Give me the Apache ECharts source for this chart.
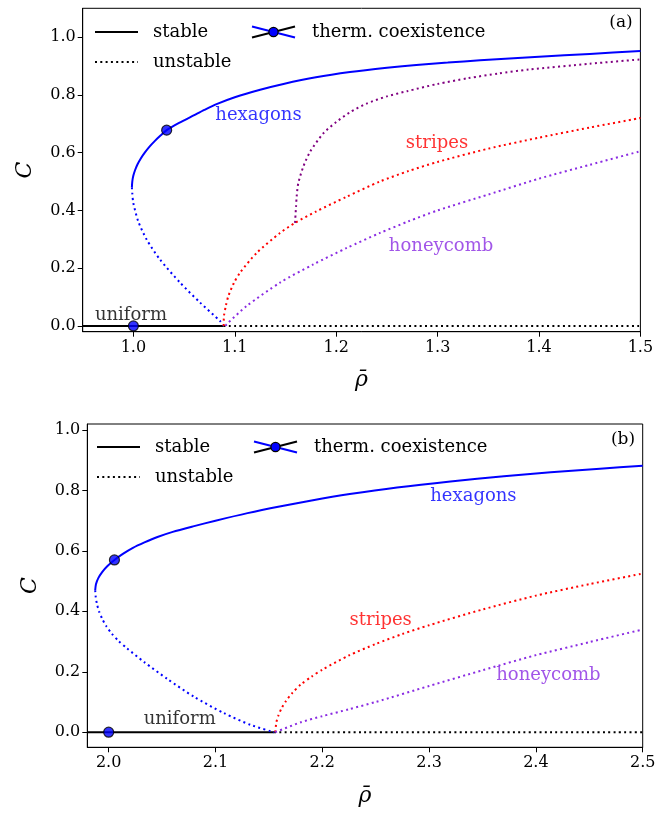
<!DOCTYPE html>
<html><head><meta charset="utf-8">
<script src="https://cdn.jsdelivr.net/npm/echarts@6/dist/echarts.min.js"></script>
<style>html,body{margin:0;padding:0;background:#fff}#c{width:661px;height:813px}</style>
</head><body><div id="c"></div>
<script>
// ---------- panel (a) data ----------
const xTicksA = [1.0, 1.1, 1.2, 1.3, 1.4, 1.5];
const yTicksA = [0.0, 0.2, 0.4, 0.6, 0.8, 1.0];
const hexStableA = [[0.9985,0.48],[0.9989,0.50],[0.9999,0.52],[1.0017,0.54],[1.0041,0.56],[1.0073,0.58],[1.0112,0.60],[1.0157,0.62],[1.021,0.64],[1.027,0.66],[1.0328,0.678],[1.045,0.703],[1.06,0.73],[1.07,0.748],[1.082,0.768],[1.1,0.792],[1.125,0.818],[1.148,0.838],[1.18,0.861],[1.2136,0.879],[1.25,0.894],[1.279,0.904],[1.31,0.912],[1.3418,0.92],[1.4,0.932],[1.45,0.942],[1.5,0.952]];
const hexUnstableA = [[0.9985,0.48],[0.9989,0.46],[0.9999,0.426],[1.0048,0.362],[1.0131,0.299],[1.0262,0.23],[1.046,0.15],[1.0657,0.081],[1.0854,0.017],[1.089,0.0]];
const stripesA = [[1.089,0.0],[1.0893,0.034],[1.0912,0.07],[1.0936,0.103],[1.099,0.148],[1.1051,0.184],[1.1216,0.253],[1.1446,0.322],[1.1594,0.357],[1.18,0.396],[1.21,0.447],[1.243,0.5],[1.271,0.536],[1.3,0.568],[1.35,0.614],[1.4,0.652],[1.45,0.687],[1.5,0.72]];
const honeycombA = [[1.091,0.0],[1.092,0.006],[1.1117,0.069],[1.1446,0.15],[1.1774,0.213],[1.2104,0.27],[1.2432,0.322],[1.2711,0.362],[1.3,0.4],[1.35,0.455],[1.4,0.51],[1.45,0.558],[1.5,0.605]];
const purpleA = [[1.1594,0.357],[1.1604,0.414],[1.161,0.448],[1.1626,0.494],[1.1676,0.552],[1.1742,0.603],[1.1873,0.667],[1.2,0.706],[1.2136,0.74],[1.23,0.77],[1.25,0.795],[1.27,0.813],[1.3,0.838],[1.33,0.858],[1.36,0.874],[1.39,0.888],[1.45,0.908],[1.5,0.923]];
const uniformStableA = [[0.95,0.0],[1.089,0.0]];
const uniformUnstableA = [[1.089,0.0],[1.5,0.0]];
const coexA = [[1.0,0.0],[1.0328,0.678]];
const labelsA = [
  {name:'hexagons', value:[1.1234,0.73], color:'#0000ff'},
  {name:'stripes', value:[1.2994,0.633], color:'#ff0000'},
  {name:'honeycomb', value:[1.3034,0.275], color:'#8a2be2'},
  {name:'uniform', value:[0.9976,0.037], color:'#000000'}
];
// ---------- panel (b) data ----------
const xTicksB = [2.0, 2.1, 2.2, 2.3, 2.4, 2.5];
const yTicksB = [0.0, 0.2, 0.4, 0.6, 0.8, 1.0];
const hexStableB = [[1.9874,0.47],[1.9881,0.49],[1.9903,0.51],[1.9939,0.53],[1.9989,0.55],[2.0054,0.57],[2.0133,0.59],[2.0227,0.61],[2.0335,0.628],[2.0457,0.646],[2.06,0.663],[2.08,0.682],[2.1,0.7],[2.13,0.725],[2.16,0.747],[2.19,0.767],[2.2257,0.788],[2.27,0.81],[2.32,0.83],[2.37,0.847],[2.4138,0.86],[2.46,0.872],[2.5,0.882]];
const hexUnstableB = [[1.9874,0.47],[1.9878,0.45],[1.989,0.425],[1.991,0.4],[1.994,0.375],[1.998,0.35],[2.003,0.326],[2.009,0.303],[2.017,0.278],[2.0333,0.232],[2.055,0.176],[2.08,0.117],[2.108,0.063],[2.133,0.024],[2.155,0.0]];
const stripesB = [[2.156,0.0],[2.157,0.032],[2.159,0.056],[2.162,0.08],[2.166,0.103],[2.172,0.13],[2.18,0.158],[2.19,0.184],[2.2,0.207],[2.225,0.254],[2.25,0.292],[2.275,0.325],[2.3,0.354],[2.35,0.406],[2.4,0.452],[2.45,0.49],[2.5,0.525]];
const honeycombB = [[2.156,0.0],[2.18,0.033],[2.2,0.053],[2.225,0.076],[2.25,0.1],[2.3,0.153],[2.35,0.205],[2.4,0.255],[2.45,0.298],[2.5,0.34]];
const uniformStableB = [[1.98,0.0],[2.155,0.0]];
const uniformUnstableB = [[2.155,0.0],[2.5,0.0]];
const coexB = [[2.0,0.0],[2.0054,0.57]];
const labelsB = [
  {name:'hexagons', value:[2.3415,0.78], color:'#0000ff'},
  {name:'stripes', value:[2.2547,0.371], color:'#ff0000'},
  {name:'honeycomb', value:[2.4117,0.189], color:'#8a2be2'},
  {name:'uniform', value:[2.0665,0.041], color:'#000000'}
];

const FONT = 'DejaVu Serif';
const DOT = [2, 3.3];

function xAxisCfg(idx, min, max, ticks){
  return {type:'value', gridIndex:idx, min:min, max:max,
    name:'ρ\u0304', nameLocation:'middle', nameGap:38,
    nameTextStyle:{fontFamily:FONT, fontStyle:'italic', fontSize:22, color:'#000'},
    axisLine:{show:true, onZero:false, lineStyle:{color:'#000', width:1}},
    axisTick:{show:true, inside:false, length:5, lineStyle:{color:'#000'}, customValues:ticks},
    axisLabel:{show:true, fontFamily:FONT, fontSize:16, color:'#000', margin:8, customValues:ticks,
      formatter:v=>Number(v).toFixed(1)},
    splitLine:{show:false}};
}
function yAxisCfg(idx, min, max, ticks){
  return {type:'value', gridIndex:idx, min:min, max:max,
    name:'C', nameLocation:'middle', nameGap:46,
    nameTextStyle:{fontFamily:FONT, fontStyle:'italic', fontSize:22, color:'#000'},
    axisLine:{show:true, onZero:false, lineStyle:{color:'#000', width:1}},
    axisTick:{show:true, inside:false, length:5, lineStyle:{color:'#000'}, customValues:ticks},
    axisLabel:{show:true, fontFamily:FONT, fontSize:16, color:'#000', margin:7, customValues:ticks,
      formatter:v=>Number(v).toFixed(1)},
    splitLine:{show:false}};
}
function lineS(idx, data, color, dotted, z){
  return {type:'line', xAxisIndex:idx, yAxisIndex:idx, data:data, showSymbol:false, symbol:'none',
    smooth:0.25, z:z||2, animation:false, silent:true,
    lineStyle:{color:color, width:2, type:dotted?DOT:'solid', cap:'butt'}};
}
function coexS(idx, data){
  return {type:'scatter', xAxisIndex:idx, yAxisIndex:idx, data:data, symbol:'circle', symbolSize:10, z:10,
    itemStyle:{color:'#0000ff', borderColor:'#000', borderWidth:1.2}, animation:false, silent:true};
}
function labelS(idx, data){
  return {type:'scatter', xAxisIndex:idx, yAxisIndex:idx, symbolSize:0, z:11, animation:false, silent:true,
    data:data.map(d=>({name:d.name, value:d.value, label:{color:d.color}})),
    label:{show:true, position:'inside', formatter:p=>p.name, fontFamily:FONT, fontSize:18}};
}
function panelSeries(idx, P){
  return [
    lineS(idx, P.uniformStable, '#000', false, 3),
    lineS(idx, P.uniformUnstable, '#000', true, 3),
    lineS(idx, P.hexStable, '#0000ff', false, 4),
    lineS(idx, P.hexUnstable, '#0000ff', true, 4),
    lineS(idx, P.stripes, '#ff0000', true, 4),
    lineS(idx, P.honeycomb, '#8a2be2', true, 5),
  ].concat(P.purple ? [lineS(idx, P.purple, '#800080', true, 4)] : [])
   .concat([coexS(idx, P.coex), labelS(idx, P.labels)]);
}
function legendGraphic(x0, y0){
  const t = {fontFamily:FONT, fontSize:18, fill:'#000', verticalAlign:'middle', align:'left'};
  return [
    {type:'line', shape:{x1:x0, y1:y0, x2:x0+43, y2:y0}, style:{stroke:'#000', lineWidth:2}},
    {type:'text', x:x0+58, y:y0, style:Object.assign({text:'stable'}, t)},
    {type:'line', shape:{x1:x0, y1:y0+30, x2:x0+43, y2:y0+30}, style:{stroke:'#000', lineWidth:2, lineDash:DOT}},
    {type:'text', x:x0+58, y:y0+30, style:Object.assign({text:'unstable'}, t)},
    {type:'line', shape:{x1:x0+157, y1:y0-5.5, x2:x0+200, y2:y0+5.5}, style:{stroke:'#0000ff', lineWidth:2}},
    {type:'line', shape:{x1:x0+157, y1:y0+5.5, x2:x0+200, y2:y0-5.5}, style:{stroke:'#000', lineWidth:2}},
    {type:'circle', shape:{cx:x0+178.5, cy:y0, r:4.6}, style:{fill:'#0000ff', stroke:'#000', lineWidth:1.2}},
    {type:'text', x:x0+217, y:y0, style:Object.assign({text:'therm. coexistence'}, t)}
  ];
}

const chart = echarts.init(document.getElementById('c'), null, {renderer:'canvas'});
const option = {
  backgroundColor:'#fff',
  animation:false,
  grid:[
    {left:82.7, top:8.3, width:557.7, height:323.4, show:true, borderColor:'#000', borderWidth:1, containLabel:false},
    {left:87.3, top:424, width:555.4, height:323.3, show:true, borderColor:'#000', borderWidth:1, containLabel:false}
  ],
  xAxis:[xAxisCfg(0, 0.95, 1.5, xTicksA), xAxisCfg(1, 1.98, 2.5, xTicksB)],
  yAxis:[yAxisCfg(0, -0.02, 1.1, yTicksA), yAxisCfg(1, -0.05, 1.02, yTicksB)],
  series: panelSeries(0, {uniformStable:uniformStableA, uniformUnstable:uniformUnstableA, hexStable:hexStableA,
            hexUnstable:hexUnstableA, stripes:stripesA, honeycomb:honeycombA, purple:purpleA, coex:coexA, labels:labelsA})
    .concat(panelSeries(1, {uniformStable:uniformStableB, uniformUnstable:uniformUnstableB, hexStable:hexStableB,
            hexUnstable:hexUnstableB, stripes:stripesB, honeycomb:honeycombB, purple:null, coex:coexB, labels:labelsB})),
  graphic: legendGraphic(95, 32).concat(legendGraphic(97, 447)).concat([
    {type:'text', x:621, y:23, style:{text:'(a)', fontFamily:FONT, fontSize:17, fill:'#000', align:'center', verticalAlign:'middle'}},
    {type:'text', x:623, y:440, style:{text:'(b)', fontFamily:FONT, fontSize:17, fill:'#000', align:'center', verticalAlign:'middle'}}
  ])
};
chart.setOption(option);
</script></body></html>
